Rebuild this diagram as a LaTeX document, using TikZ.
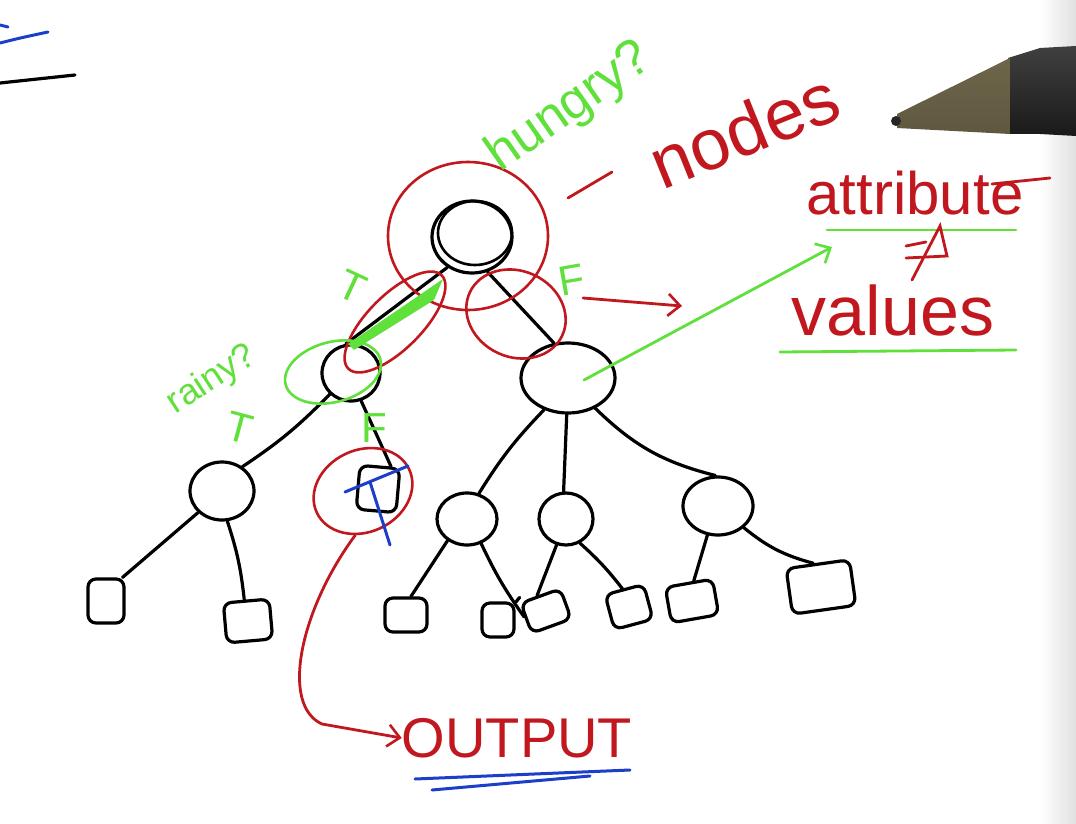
\documentclass[tikz,border=0pt]{standalone}
\usepackage{fontspec}
\setmainfont{Liberation Sans}
\usetikzlibrary{shapes.geometric,arrows.meta}
\definecolor{inkred}{HTML}{C1181F}
\definecolor{inkgreen}{HTML}{5FE03A}
\definecolor{inkblue}{HTML}{1B3FC8}
\tikzset{
 tn/.style={ellipse, draw=black, line width=3.2pt, inner sep=0pt},
 leaf/.style={draw=black, line width=3.2pt, rounded corners=8pt, inner sep=0pt},
 edge/.style={black, line width=3.2pt, line cap=round},
 redring/.style={ellipse, draw=inkred, line width=2.6pt, inner sep=0pt},
 greenring/.style={ellipse, draw=inkgreen, line width=2.6pt, inner sep=0pt},
 redtxt/.style={text=inkred, inner sep=0pt},
 greentxt/.style={text=inkgreen, inner sep=0pt},
 redline/.style={inkred, line width=2.8pt, line cap=round},
 greenline/.style={inkgreen, line width=2.8pt, line cap=round},
 blueline/.style={inkblue, line width=3pt, line cap=round},
 openhead/.style={-{Straight Barb[length=12pt,width=22pt,line width=2.6pt]}}
}
\begin{document}
\begin{tikzpicture}[x=1pt,y=-1pt]
\useasboundingbox (0,0) rectangle (1076,824);
\fill[white] (0,0) rectangle (1076,824);
\shade[left color=white,right color=black!12] (1040,0) rectangle (1076,824);

% margin strokes
\draw[blueline] (0,25) -- (8,27);
\draw[blueline] (0,43) .. controls (20,38) .. (48,32);
\draw[black, line width=3.2pt, line cap=round] (0,83) -- (75,75);

% pen
\shade[top color=black!75, bottom color=black!90] (1008,58) -- (1040,48) -- (1076,46) -- (1076,136) -- (1040,134) -- (1008,134) -- cycle;
\shade[top color={rgb,255:red,110;green,102;blue,74}, middle color={rgb,255:red,236;green,228;blue,180}, bottom color={rgb,255:red,95;green,88;blue,64}] (897,114) -- (1010,58) -- (1010,134) -- (897,128) -- cycle;
\fill[black!85] (896,121) circle (5);

% tree nodes
\node[tn, minimum width=80, minimum height=72] (root) at (472,237) {};
\draw[black, line width=2.6pt] (475,233) ellipse [x radius=37, y radius=32];
\node[tn, minimum width=58, minimum height=56] (lc) at (351,373) {};
\node[tn, minimum width=94, minimum height=70] (rc) at (568,378) {};
\node[tn, minimum width=64, minimum height=58] (ll) at (222,491) {};
\node[leaf, minimum width=40, minimum height=44, rotate=-5] (out) at (378,489) {};
\node[tn, minimum width=60, minimum height=52] (rl) at (467,519) {};
\node[tn, minimum width=54, minimum height=52] (rm) at (566,519) {};
\node[tn, minimum width=70, minimum height=58] (rr) at (718,506) {};
\node[leaf, minimum width=36, minimum height=44] (l1) at (106,601) {};
\node[leaf, minimum width=46, minimum height=40, rotate=5] (l2) at (248,621) {};
\node[leaf, minimum width=42, minimum height=34] (l3) at (406,615) {};
\node[leaf, minimum width=32, minimum height=34] (l4) at (498,620) {};
\node[leaf, minimum width=42, minimum height=32, rotate=20] (l5) at (546,611) {};
\node[leaf, minimum width=40, minimum height=36, rotate=15] (l6) at (629,607) {};
\node[leaf, minimum width=48, minimum height=36, rotate=10] (l7) at (692,601) {};
\node[leaf, minimum width=64, minimum height=46, rotate=8] (l8) at (821,587) {};

% edges
\draw[edge] (root.231) -- (lc.100);
\draw[edge] (root.294) -- (rc.112);
\draw[edge] (lc.225) to[bend left=6] (ll.50);
\draw[edge] (lc.290) -- (out.65);
\draw[edge] (ll.222) -- (l1.55);
\draw[edge] (ll.280) to[bend left=6] (l2.95);
\draw[edge] (rc.233) to[bend right=6] (rl.65);
\draw[edge] (rc.268) -- (rm.95);
\draw[edge] (rc.312) to[bend right=15] (rr.95);
\draw[edge] (rl.228) -- (l3.75);
\draw[edge] (rl.300) to[bend right=5] (l5.175);
\draw[edge] (rm.250) -- (l5.100);
\draw[edge] (rm.300) to[bend left=5] (l6.95);
\draw[edge] (rr.250) -- (l7.75);
\draw[edge] (rr.320) to[bend right=12] (l8.100);
\draw[edge] (l4.45) -- ++(4,-5);

% annotation rings
\node[redring, minimum width=160, minimum height=148] (ringroot) at (468,236) {};
\node[redring, minimum width=102, minimum height=86, rotate=-25] (ringF) at (516,314) {};
\node[redring, minimum width=132, minimum height=54, rotate=45] (ringT) at (395,322) {};
\node[greenring, minimum width=98, minimum height=60, rotate=15] (ringlc) at (333,372) {};
\node[redring, minimum width=102, minimum height=82, rotate=25] (ringout) at (363,491) {};

% green highlight on T edge
\fill[inkgreen] (443,279) -- (434,300) -- (354,350) -- (348,344) -- cycle;

% labels
\node[greentxt, font=\fontsize{52}{52}\selectfont, rotate=35] (hungry) at (570,108) {hungry?};
\node[redtxt, font=\fontsize{72}{72}\selectfont, rotate=22] (nodes) at (744,130) {nodes};
\draw[redline] (568,198) -- (612,172);
\node[redtxt, font=\fontsize{60}{60}\selectfont] (attr) at (915,193) {attribute};
\draw[redline] (992,184) -- (1050,178);
\draw[greenline] (827,230) -- (1016,230);
\draw[redline] (912,280) -- (940,226) -- (947,256) -- (906,258);
\draw[redline] (906,246) -- (926,242);
\node[redtxt, font=\fontsize{70}{70}\selectfont] (vals) at (893,310) {values};
\draw[greenline] (780,352) -- (1016,350);
\node[greentxt, font=\fontsize{36}{36}\selectfont, rotate=33] (rainy) at (212,380) {rainy?};
\node[greentxt, font=\fontsize{42}{42}\selectfont, rotate=-25] (t1) at (352,287) {T};
\node[greentxt, font=\fontsize{42}{42}\selectfont, rotate=10] (f1) at (572,280) {F};
\node[greentxt, font=\fontsize{42}{42}\selectfont, rotate=-15] (t2) at (240,428) {T};
\node[greentxt, font=\fontsize{42}{42}\selectfont] (f2) at (374,428) {F};
\node[redtxt, font=\fontsize{56}{56}\selectfont] (output) at (517,738) {OUTPUT};

% arrows
\coordinate (fstart) at (583,298);
\coordinate (fend) at (682,306);
\draw[redline, openhead] (fstart) -- (fend);
\coordinate (gstart) at (584,380);
\coordinate (gend) at (832,247);
\draw[greenline, openhead] (gstart) -- (gend);
\draw[redline, openhead] (ringout.235) .. controls (300,610) and (280,705) .. (322,724) -- (output.west);

% blue marks
\draw[blueline] (345,492) -- (408,466);
\draw[blueline] (370,482) -- (390,545);
\draw[blueline] (415,779) -- (630,770);
\draw[blueline] (432,790) -- (590,776);
\end{tikzpicture}
\end{document}
